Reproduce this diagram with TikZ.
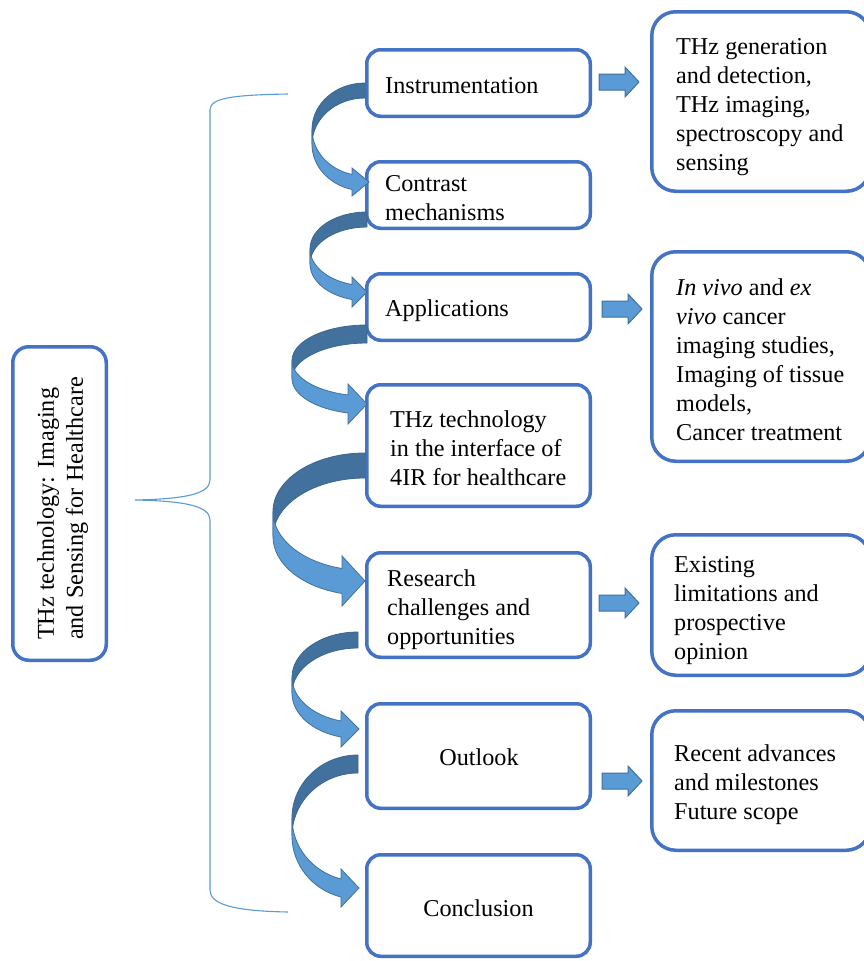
\documentclass[tikz,border=0pt]{standalone}
\usepackage{fontspec}
\setmainfont{Liberation Serif}
\usetikzlibrary{calc}
\definecolor{boxblue}{HTML}{4472C4}
\definecolor{lightblue}{HTML}{5B9BD5}
\definecolor{darkblue}{HTML}{41719C}
\definecolor{edgeblue}{HTML}{3A6790}
\newdimen\cvdx
\newdimen\cvdy
% curved ribbon arrow: #1 start coord (top of band), #2 tip coord, #3 band thickness, #4 horizontal radius, #5 head overhang, #6 head length
\newcommand\curvedribbon[6]{%
  \pgfextractx{\cvdx}{\pgfpointanchor{#1}{center}}%
  \pgfextracty{\cvdy}{\pgfpointanchor{#1}{center}}%
  \pgfmathsetmacro\cvxr{\cvdx}%
  \pgfmathsetmacro\cvyt{-\cvdy}%
  \pgfextractx{\cvdx}{\pgfpointanchor{#2}{center}}%
  \pgfextracty{\cvdy}{\pgfpointanchor{#2}{center}}%
  \pgfmathsetmacro\cvxt{\cvdx}%
  \pgfmathsetmacro\cvyp{-\cvdy}%
  \pgfmathsetmacro\cvxb{\cvxt-#6}%
  \pgfmathsetmacro\cvc{(\cvxb-\cvxr)/#4}%
  \pgfmathsetmacro\cvs{sqrt(1-\cvc*\cvc)}%
  \pgfmathsetmacro\cvphi{acos(\cvc)}%
  \pgfmathsetmacro\cvR{(\cvyp-\cvyt-#3/2)/(1+\cvs)}%
  \pgfmathsetmacro\cvA{\cvyt+\cvR}%
  \pgfmathsetmacro\cvB{\cvA+#3}%
  \pgfmathsetmacro\cvsy{\cvR*\cvs}%
  \filldraw[backband] (\cvxr,\cvyt) arc[start angle=270,end angle=180,x radius=#4,y radius=\cvR]
     -- (\cvxr-#4,\cvB) arc[start angle=180,end angle=270,x radius=#4,y radius=\cvR] -- cycle;
  \filldraw[frontband] (\cvxr-#4,\cvA) arc[start angle=180,end angle=\cvphi,x radius=#4,y radius=\cvR]
     -- (\cvxb,\cvA+\cvsy-#5) -- (\cvxt,\cvA+\cvsy+#3/2) -- (\cvxb,\cvB+\cvsy+#5) -- (\cvxb,\cvB+\cvsy)
     arc[start angle=\cvphi,end angle=180,x radius=#4,y radius=\cvR] -- cycle;
}
\begin{document}
\begin{tikzpicture}[x=1pt,y=-1pt,
  box/.style={draw=boxblue, line width=3.5pt, rounded corners=14pt, fill=white, inner sep=0pt},
  rbox/.style={box, rounded corners=24pt},
  tbox/.style={box, rounded corners=16pt},
  txt/.style={font=\fontsize{24.2pt}{29pt}\selectfont, align=left, inner sep=0pt, text=black},
  backband/.style={fill=darkblue, draw=edgeblue, line width=0.8pt},
  frontband/.style={fill=lightblue, draw=darkblue, line width=0.8pt},
  blockarr/.style={fill=lightblue, draw=darkblue, line width=1pt},
  bracestyle/.style={draw=lightblue, line width=1.1pt}]
\useasboundingbox (0,0) rectangle (863,961);
\fill[white] (0,0) rectangle (863,961);

% title box
\node[tbox, minimum width=93.5pt, minimum height=313.5pt] (title) at (59.5,503.5) {};

% middle column boxes
\node[box, minimum width=223.5pt, minimum height=66.5pt]  (b1) at (478.5,83) {};
\node[box, minimum width=223.5pt, minimum height=66.5pt]  (b2) at (478.5,195) {};
\node[box, minimum width=223.5pt, minimum height=66.5pt]  (b3) at (478.5,307) {};
\node[box, minimum width=223.5pt, minimum height=121.5pt] (b4) at (478.5,445.5) {};
\node[box, minimum width=223.5pt, minimum height=104.5pt] (b5) at (478.5,605) {};
\node[box, minimum width=223.5pt, minimum height=104.5pt] (b6) at (478.5,756) {};
\node[box, minimum width=223.5pt, minimum height=101.5pt] (b7) at (478.5,905.5) {};

% right boxes
\node[rbox, minimum width=218.5pt, minimum height=179.5pt] (r1) at (761,101.5) {};
\node[rbox, minimum width=218.5pt, minimum height=209.5pt] (r2) at (761,356.5) {};
\node[rbox, minimum width=218.5pt, minimum height=140.5pt] (r3) at (761,605) {};
\node[rbox, minimum width=218.5pt, minimum height=139.5pt] (r4) at (761,780.5) {};

% brace
\coordinate (bracetip) at (135,500);
\coordinate (bracetop) at (288,94);
\coordinate (bracebot) at (288,912);
\draw[bracestyle] (bracetop) .. controls (232,95) and (210,98) .. (210,110) -- (210,480)
   .. controls (210,494) and (185,499) .. (bracetip)
   .. controls (185,501) and (210,506) .. (210,520) -- (210,890)
   .. controls (210,904) and (232,911) .. (bracebot);

% curved arrows
\coordinate (s1) at ($(b1.west)+(0,0)$);
\coordinate (t1) at ($(b2.west)+(4,-13)$);
\coordinate (s2) at ($(b2.west)+(2,17)$);
\coordinate (t2) at ($(b3.west)+(2,-15)$);
\coordinate (s3) at ($(b3.west)+(2,18)$);
\coordinate (t3) at ($(b4.west)+(2,-41.5)$);
\coordinate (s4) at ($(b4.west)+(0,7.5)$);
\coordinate (t4) at ($(b5.west)+(0,-24)$);
\coordinate (s5) at ($(b5.west)+(-7,27)$);
\coordinate (t5) at ($(b6.west)+(-6,-27)$);
\coordinate (s6) at ($(b6.west)+(-7,-1)$);
\coordinate (t6) at ($(b7.west)+(-6,-17.5)$);
\curvedribbon{s1}{t1}{15}{53}{6.5}{17}
\curvedribbon{s2}{t2}{15}{57}{7.5}{15}
\curvedribbon{s3}{t3}{18}{75}{11}{19}
\curvedribbon{s4}{t4}{25}{92}{12.5}{23}
\curvedribbon{s5}{t5}{16}{66}{10}{18}
\curvedribbon{s6}{t6}{18}{66}{10}{18}

% block arrows
\foreach \src/\dx/\dy in {b1/7/-1, b3/10/2, b5/7/-2, b6/10/25}{
  \filldraw[blockarr] ($(\src.east)+(\dx,\dy)$) ++(0,-8) -- ++(26,0) -- ++(0,-7) -- ++(14,15)
     -- ++(-14,15) -- ++(0,-7) -- ++(-26,0) -- cycle;
}

% texts
\node[txt, rotate=90] (tt) at ($(title.center)+(3,5)$) {THz technology: Imaging\\and Sensing for Healthcare};
\node[txt, anchor=west] (t1x) at ($(b1.west)+(20,3)$) {Instrumentation};
\node[txt, anchor=west] (t2x) at ($(b2.west)+(20,3)$) {Contrast\\mechanisms};
\node[txt, anchor=west] (t3x) at ($(b3.west)+(20,4)$) {Applications};
\node[txt, anchor=west] (t4x) at ($(b4.west)+(25,2.5)$) {THz technology\\in the interface of\\4IR for healthcare};
\node[txt, anchor=west] (t5x) at ($(b5.west)+(22,5)$) {Research\\challenges and\\opportunities};
\node[txt] (t6x) at ($(b6.center)+(0.5,1)$) {Outlook};
\node[txt] (t7x) at ($(b7.center)+(0,2.5)$) {Conclusion};
\node[txt, anchor=west] (r1x) at ($(r1.west)+(26,5.5)$) {THz generation\\and detection,\\THz imaging,\\spectroscopy and\\sensing};
\node[txt, anchor=west] (r2x) at ($(r2.west)+(26,3)$) {\textit{In vivo} and \textit{ex}\\\textit{vivo} cancer\\imaging studies,\\Imaging of tissue\\models,\\Cancer treatment};
\node[txt, anchor=west] (r3x) at ($(r3.west)+(24,5.5)$) {Existing\\limitations and\\prospective\\opinion};
\node[txt, anchor=west] (r4x) at ($(r4.west)+(24,4.5)$) {Recent advances\\and milestones\\Future scope};
\end{tikzpicture}
\end{document}
